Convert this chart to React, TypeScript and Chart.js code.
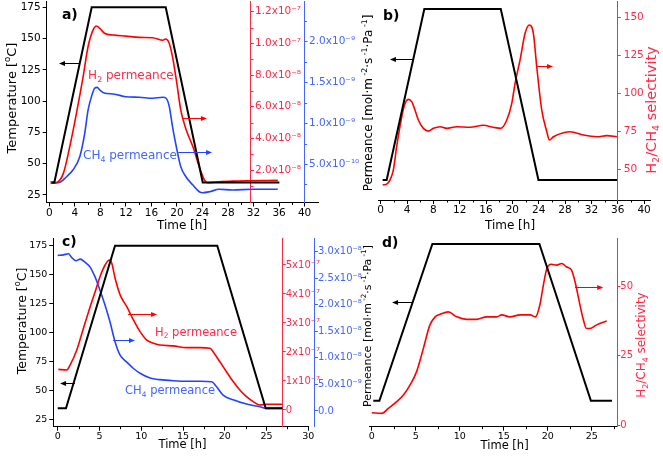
import React, { useEffect, useRef } from 'react';
import { Chart, registerables } from 'chart.js';

Chart.register(...registerables);

const CW = 663;
const CH = 456;
const FONT = '"DejaVu Sans", Verdana, sans-serif';
const BLACK = '#000000';
const RED = '#ff0000';
const RED_AX = '#ff2a48';
const BLUE = '#2244ff';
const BLUE_AX = '#4466ff';

// ---------------- Panel a ----------------
const aXTicks = [0, 4, 8, 12, 16, 20, 24, 28, 32, 36, 40];
const aXMinor = [2, 6, 10, 14, 18, 22, 26, 30, 34, 38];
const aTempTicks = [25, 50, 75, 100, 125, 150, 175];
const aH2Ticks = [2, 4, 6, 8, 10, 12];
const aH2Labels = ['2.0x10⁻⁸', '4.0x10⁻⁸', '6.0x10⁻⁸', '8.0x10⁻⁸', '1.0x10⁻⁷', '1.2x10⁻⁷'];
const aH2Minor = [1, 3, 5, 7, 9, 11];
const aCH4Ticks = [5, 10, 15, 20];
const aCH4Labels = ['5.0x10⁻¹⁰', '1.0x10⁻⁹', '1.5x10⁻⁹', '2.0x10⁻⁹'];
const aCH4Minor = [2.5, 7.5, 12.5, 17.5, 22.5];

const aTempT = [0.38, 0.79, 6.64, 18.24, 24.04, 36.05];
const aTempV = [35, 35, 175, 175, 35, 35];
// H2 permeance, units of 1e-8
const aH2T = [0.19, 1.12, 2.2, 3.2, 4.25, 5.3, 6.07, 6.85, 7.37, 7.9, 8.7, 9.97, 12, 14.1, 16.2, 17.8, 18.2, 18.8, 19.3, 19.9, 20.6, 21.4, 22.5, 23.5, 24.3, 24.8, 26.1, 28.7, 35.8];
const aH2V = [1.16, 1.2, 1.79, 3.47, 5.58, 7.9, 9.79, 10.84, 11.1, 10.95, 10.63, 10.53, 10.46, 10.38, 10.36, 10.2, 10.28, 10.0, 9.16, 7.69, 5.79, 4.6, 3.47, 2.21, 1.37, 1.2, 1.24, 1.3, 1.35];
// CH4 permeance, units of 1e-10
const aCH4T = [0.19, 1.4, 2.7, 3.7, 4.77, 5.55, 6.07, 6.6, 7.1, 7.5, 7.9, 8.7, 10, 12, 14.1, 16.2, 17.8, 18.3, 18.8, 19.3, 19.9, 20.6, 21.4, 22.5, 23.5, 24, 25.1, 26.6, 28.7, 31.9, 35.8];
const aCH4V = [2.83, 2.71, 3.44, 4.26, 5.9, 8.77, 11.6, 13.25, 14.28, 14.4, 14.08, 13.67, 13.59, 13.25, 13.18, 13.06, 13.18, 13.06, 12.03, 9.58, 7.12, 4.67, 3.44, 2.42, 1.6, 1.48, 1.6, 1.9, 1.81, 1.9, 1.9];

// ---------------- Panel b ----------------
const bXTicks = [0, 4, 8, 12, 16, 20, 24, 28, 32, 36, 40];
const bXMinor = [2, 6, 10, 14, 18, 22, 26, 30, 34, 38];
const bSelTicks = [50, 75, 100, 125, 150];
const bTempT = [0.3, 0.91, 6.63, 18.24, 23.96, 35.9];
const bTempV = [35, 35, 175, 175, 35, 35];
const bSelT = [0.3, 0.91, 1.41, 1.92, 2.43, 2.93, 3.54, 4.2, 4.71, 5.21, 5.72, 6.48, 7.24, 8.0, 9.01, 10.03, 11.55, 13.57, 15.6, 17.11, 18.24, 19.15, 19.91, 20.41, 21.17, 21.93, 22.58, 23.19, 23.7, 24.46, 25.23, 25.63, 26.24, 27.76, 28.77, 30.8, 32.83, 34.35, 35.87];
const bSelV = [39.5, 40.1, 42.7, 49.3, 64.7, 77.9, 91.1, 95.9, 94.4, 88.9, 82.3, 76.8, 75, 76.8, 77.9, 76.8, 77.9, 77.5, 78.8, 77.5, 76.8, 82.3, 93.3, 106.5, 121.9, 139.4, 144.9, 139.4, 117.4, 88.9, 74.6, 69.1, 71.3, 73.9, 74.6, 72.4, 71.3, 72, 71.3];

// ---------------- Panel c ----------------
const cXTicks = [0, 5, 10, 15, 20, 25, 30];
const cXMinor = [2.5, 7.5, 12.5, 17.5, 22.5, 27.5];
const cTempTicks = [25, 50, 75, 100, 125, 150, 175];
const cH2Ticks = [0, 1, 2, 3, 4, 5];
const cH2Labels = ['0', '1x10⁻⁷', '2x10⁻⁷', '3x10⁻⁷', '4x10⁻⁷', '5x10⁻⁷'];
const cCH4Ticks = [0, 0.5, 1, 1.5, 2, 2.5, 3];
const cCH4Labels = ['0.0', '5.0x10⁻⁹', '1.0x10⁻⁸', '1.5x10⁻⁸', '2.0x10⁻⁸', '2.5x10⁻⁸', '3.0x10⁻⁸'];
const cTempT = [0, 0.99, 6.86, 19.1, 24.9, 26.9];
const cTempV = [35, 35, 175, 175, 35, 35];
// H2 permeance, units of 1e-7
const cH2T = [0.08, 1.08, 1.48, 2.28, 3.08, 3.88, 4.48, 5.07, 5.67, 6.2, 6.47, 6.87, 7.47, 8.27, 9.07, 9.86, 10.66, 11.45, 12.25, 13.85, 15.45, 17.04, 18.24, 18.6, 19.4, 20.2, 21.0, 21.8, 22.6, 23.4, 24.2, 25.0, 26.9];
const cH2V = [1.4, 1.38, 1.55, 2.07, 2.82, 3.56, 4.08, 4.6, 5.0, 5.17, 5.06, 4.54, 3.97, 3.56, 3.1, 2.7, 2.41, 2.3, 2.24, 2.21, 2.15, 2.15, 2.13, 2.01, 1.67, 1.32, 0.98, 0.69, 0.46, 0.29, 0.17, 0.2, 0.2];
// CH4 permeance, units of 1e-8
const cCH4T = [0, 0.68, 1.28, 1.68, 2.2, 2.68, 3.28, 3.88, 4.48, 5.07, 5.67, 6.27, 6.87, 7.47, 8.27, 9.07, 9.86, 11.06, 12.25, 13.85, 15.45, 17.04, 18.44, 19.0, 19.8, 21.0, 22.6, 24.2, 25.0, 26.9];
const cCH4V = [2.93, 2.94, 2.96, 2.89, 2.83, 2.86, 2.8, 2.71, 2.52, 2.27, 1.99, 1.67, 1.3, 1.05, 0.92, 0.8, 0.71, 0.62, 0.59, 0.57, 0.56, 0.56, 0.55, 0.46, 0.3, 0.21, 0.13, 0.08, 0.05, 0.05];

// ---------------- Panel d ----------------
const dXTicks = [0, 5, 10, 15, 20, 25];
const dXMinor = [2.5, 7.5, 12.5, 17.5, 22.5, 27.5];
const dSelTicks = [0, 25, 50];
const dTempT = [0.18, 0.87, 6.89, 19.05, 24.9, 27.3];
const dTempV = [35, 35, 175, 175, 35, 35];
const dSelT = [0, 1.14, 1.89, 2.84, 3.6, 4.36, 5.1, 5.87, 6.6, 7.2, 7.77, 8.7, 9.66, 10.8, 11.9, 13.07, 14.2, 14.77, 15.7, 16.86, 18.0, 18.6, 19.1, 19.5, 19.9, 20.4, 21, 21.6, 22.1, 22.7, 23.1, 23.5, 24.0, 24.4, 24.8, 25.5, 26.7];
const dSelV = [4.46, 4.22, 6.0, 8.43, 10.84, 14.5, 19.3, 27.7, 36.1, 39.1, 40, 40.9, 39.1, 38.2, 38.2, 39.1, 39.1, 39.8, 39.1, 39.8, 39.8, 39.1, 43.4, 50.6, 56.6, 58.1, 57.8, 58.4, 57.2, 56, 51.8, 45.8, 38.6, 34.9, 34.9, 36.1, 37.6];

// ---------------- Text ----------------
type Seg = [string, number]; // 0 normal, 1 superscript, -1 subscript
const TEMP_TITLE: Seg[] = [['Temperature [', 0], ['o', 1], ['C]', 0]];
const PERM_TITLE: Seg[] = [['Permeance [mol·m', 0], [' -2', 1], ['·s', 0], [' -1', 1], ['·Pa', 0], [' -1', 1], [']', 0]];
const SEL_TITLE: Seg[] = [['H', 0], ['2', -1], ['/CH', 0], ['4', -1], [' selectivity', 0]];
const TIME_TITLE: Seg[] = [['Time [h]', 0]];
const H2_NOTE: Seg[] = [['H', 0], ['2', -1], [' permeance', 0]];
const CH4_NOTE: Seg[] = [['CH', 0], ['4', -1], [' permeance', 0]];

interface YAxisDef {
  id: string; side: 'left' | 'right'; display: boolean; min: number; max: number; color: string;
  ticks?: number[]; labels?: string[]; minor?: number[]; at?: number; font?: number; tickLen?: number; pad?: number;
}
interface SeriesDef { axis: string; xs: number[]; ys: number[]; color: string; width: number; smooth: boolean; }
interface NoteDef { x: number; y: number; segs: Seg[]; size: number; color: string; bold?: boolean; }
interface ArrowDef { x1: number; x2: number; y: number; color: string; }
interface TitleDef { px: number; py: number; segs: Seg[]; size: number; color: string; rotate: boolean; }
interface PanelDef {
  area: [number, number, number, number];
  x: { min: number; max: number; ticks: number[]; minor: number[]; font: number };
  yAxes: YAxisDef[];
  tempAxis: string;
  series: SeriesDef[];
  notes: NoteDef[];
  arrows: ArrowDef[];
  titles: TitleDef[];
}

const panelA: PanelDef = {
  area: [46.7, 1, 318, 202.5],
  x: { min: -0.41, max: 42.1, ticks: aXTicks, minor: aXMinor, font: 10.5 },
  tempAxis: 'yT',
  yAxes: [
    { id: 'yT', side: 'left', display: true, min: 19.0, max: 180.0, color: BLACK, ticks: aTempTicks, labels: aTempTicks.map(String), font: 10.5, tickLen: 4, pad: 2 },
    { id: 'yR', side: 'right', display: true, min: -0.05, max: 12.68, color: RED_AX, ticks: aH2Ticks, labels: aH2Labels, minor: aH2Minor, at: 31.6, font: 10.5, tickLen: 3, pad: 1 },
    { id: 'yB', side: 'right', display: true, min: 0.28, max: 24.99, color: BLUE_AX, ticks: aCH4Ticks, labels: aCH4Labels, minor: aCH4Minor, at: 40, font: 10.5, tickLen: 3, pad: 1.5 },
  ],
  series: [
    { axis: 'yT', xs: aTempT, ys: aTempV, color: BLACK, width: 2, smooth: false },
    { axis: 'yR', xs: aH2T, ys: aH2V, color: RED, width: 1.6, smooth: true },
    { axis: 'yB', xs: aCH4T, ys: aCH4V, color: BLUE, width: 1.6, smooth: true },
  ],
  notes: [
    { x: 1.97, y: 169.6, segs: [['a)', 0]], size: 14, color: BLACK, bold: true },
    { x: 6.08, y: 120.9, segs: H2_NOTE, size: 12, color: RED_AX },
    { x: 5.28, y: 57, segs: CH4_NOTE, size: 12, color: BLUE_AX },
  ],
  arrows: [
    { x1: 4.81, x2: 1.52, y: 130.5, color: BLACK },
    { x1: 20.96, x2: 24.7, y: 86.5, color: RED },
    { x1: 20.2, x2: 25.5, y: 59.4, color: BLUE },
  ],
  titles: [
    { px: 11, py: 98, segs: TEMP_TITLE, size: 13, color: BLACK, rotate: true },
    { px: 182, py: 225, segs: TIME_TITLE, size: 12, color: BLACK, rotate: false },
  ],
};

const panelB: PanelDef = {
  area: [378.3, 1, 650, 200],
  x: { min: -0.36, max: 40.9, ticks: bXTicks, minor: bXMinor, font: 10.5 },
  tempAxis: 'yT',
  yAxes: [
    { id: 'yT', side: 'left', display: false, min: 18.6, max: 181.5, color: BLACK },
    { id: 'yS', side: 'right', display: true, min: 29.6, max: 160.7, color: RED_AX, ticks: bSelTicks, labels: bSelTicks.map(String), at: 36, font: 10.5, tickLen: 3, pad: 3 },
  ],
  series: [
    { axis: 'yT', xs: bTempT, ys: bTempV, color: BLACK, width: 2, smooth: false },
    { axis: 'yS', xs: bSelT, ys: bSelV, color: RED, width: 1.6, smooth: true },
  ],
  notes: [
    { x: 0.35, y: 170.1, segs: [['b)', 0]], size: 14, color: BLACK, bold: true },
  ],
  arrows: [
    { x1: 4.91, x2: 1.41, y: 134.1, color: BLACK },
    { x1: 23.75, x2: 26.18, y: 128.3, color: RED },
  ],
  titles: [
    { px: 368, py: 103, segs: PERM_TITLE, size: 12, color: BLACK, rotate: true },
    { px: 651, py: 110, segs: SEL_TITLE, size: 14.5, color: RED_AX, rotate: true },
    { px: 510, py: 225, segs: TIME_TITLE, size: 12, color: BLACK, rotate: false },
  ],
};

const panelC: PanelDef = {
  area: [53.3, 238, 308.3, 426.7],
  x: { min: -0.53, max: 30, ticks: cXTicks, minor: cXMinor, font: 9.5 },
  tempAxis: 'yT',
  yAxes: [
    { id: 'yT', side: 'left', display: true, min: 19.2, max: 181.6, color: BLACK, ticks: cTempTicks, labels: cTempTicks.map(String), font: 9.5, tickLen: 4, pad: 2 },
    { id: 'yR', side: 'right', display: true, min: -0.576, max: 5.93, color: RED_AX, ticks: cH2Ticks, labels: cH2Labels, at: 26.94, font: 10, tickLen: 3, pad: 0 },
    { id: 'yB', side: 'right', display: true, min: -0.296, max: 3.258, color: BLUE_AX, ticks: cCH4Ticks, labels: cCH4Labels, at: 30.8, font: 10, tickLen: 3, pad: 0 },
  ],
  series: [
    { axis: 'yT', xs: cTempT, ys: cTempV, color: BLACK, width: 2, smooth: false },
    { axis: 'yR', xs: cH2T, ys: cH2V, color: RED, width: 1.6, smooth: true },
    { axis: 'yB', xs: cCH4T, ys: cCH4V, color: BLUE, width: 1.6, smooth: true },
  ],
  notes: [
    { x: 0.51, y: 179, segs: [['c)', 0]], size: 14, color: BLACK, bold: true },
    { x: 11.65, y: 101, segs: H2_NOTE, size: 11.5, color: RED_AX },
    { x: 8.06, y: 50.8, segs: CH4_NOTE, size: 11.5, color: BLUE_AX },
  ],
  arrows: [
    { x1: 2.07, x2: 0.28, y: 56.8, color: BLACK },
    { x1: 8.43, x2: 11.89, y: 116.2, color: RED },
    { x1: 6.63, x2: 9.25, y: 93.8, color: BLUE },
  ],
  titles: [
    { px: 21, py: 321, segs: TEMP_TITLE, size: 12.5, color: BLACK, rotate: true },
    { px: 182.5, py: 444, segs: TIME_TITLE, size: 11.5, color: BLACK, rotate: false },
  ],
};

const panelD: PanelDef = {
  area: [369, 238, 617.3, 426.7],
  x: { min: -0.31, max: 27.9, ticks: dXTicks, minor: dXMinor, font: 9.5 },
  tempAxis: 'yT',
  yAxes: [
    { id: 'yT', side: 'left', display: false, min: 11.8, max: 180.4, color: BLACK },
    { id: 'yS', side: 'right', display: true, min: -0.61, max: 67.6, color: RED_AX, ticks: dSelTicks, labels: dSelTicks.map(String), font: 10, tickLen: 3, pad: 0 },
  ],
  series: [
    { axis: 'yT', xs: dTempT, ys: dTempV, color: BLACK, width: 2, smooth: false },
    { axis: 'yS', xs: dSelT, ys: dSelV, color: RED, width: 1.6, smooth: true },
  ],
  notes: [
    { x: 1.17, y: 176.8, segs: [['d)', 0]], size: 14, color: BLACK, bold: true },
  ],
  arrows: [
    { x1: 4.69, x2: 2.31, y: 123.2, color: BLACK },
    { x1: 23.1, x2: 26.3, y: 136.6, color: RED },
  ],
  titles: [
    { px: 367, py: 326, segs: PERM_TITLE, size: 11, color: BLACK, rotate: true },
    { px: 641, py: 345, segs: SEL_TITLE, size: 12, color: RED_AX, rotate: true },
    { px: 504.6, py: 445, segs: TIME_TITLE, size: 11.5, color: BLACK, rotate: false },
  ],
};

const PANELS = [panelA, panelB, panelC, panelD];

function drawRich(ctx: CanvasRenderingContext2D, segs: Seg[], x: number, y: number, size: number, color: string, rotate: boolean, align: 'left' | 'center', bold = false) {
  ctx.save();
  ctx.translate(x, y);
  if (rotate) ctx.rotate(-Math.PI / 2);
  const fontFor = (k: number) => `${bold ? 'bold ' : ''}${k === 0 ? size : size * 0.65}px ${FONT}`;
  let total = 0;
  const widths = segs.map(([t, k]) => {
    ctx.font = fontFor(k);
    const w = ctx.measureText(t).width;
    total += w;
    return w;
  });
  let cx = align === 'center' ? -total / 2 : 0;
  ctx.fillStyle = color;
  ctx.textAlign = 'left';
  ctx.textBaseline = 'alphabetic';
  const base = size * 0.36;
  segs.forEach(([t, k], i) => {
    ctx.font = fontFor(k);
    const dy = k === 1 ? -size * 0.42 : k === -1 ? size * 0.22 : 0;
    ctx.fillText(t, cx, base + dy);
    cx += widths[i];
  });
  ctx.restore();
}

function drawArrow(ctx: CanvasRenderingContext2D, x1: number, x2: number, y: number, color: string) {
  const dir = Math.sign(x2 - x1);
  const yy = Math.round(y) + 0.5;
  ctx.save();
  ctx.strokeStyle = color;
  ctx.fillStyle = color;
  ctx.lineWidth = 1;
  ctx.beginPath();
  ctx.moveTo(x1, yy);
  ctx.lineTo(x2 - dir * 5, yy);
  ctx.stroke();
  ctx.beginPath();
  ctx.moveTo(x2, yy);
  ctx.lineTo(x2 - dir * 6, yy - 2.5);
  ctx.lineTo(x2 - dir * 6, yy + 2.5);
  ctx.closePath();
  ctx.fill();
  ctx.restore();
}

function buildConfig(def: PanelDef): any {
  const [l, t, r, b] = def.area;
  const leftVisible = def.yAxes.some((a) => a.side === 'left' && a.display);
  const leftW = leftVisible ? 40 : 0;
  const xH = 20;
  const zeroPad = (s: any) => {
    s.paddingTop = 0; s.paddingBottom = 0; s.paddingLeft = 0; s.paddingRight = 0;
  };
  const scales: any = {
    x: {
      type: 'linear',
      position: 'bottom',
      min: def.x.min,
      max: def.x.max,
      bounds: 'data',
      afterBuildTicks: (s: any) => { s.ticks = def.x.ticks.map((v) => ({ value: v })); },
      afterFit: (s: any) => { s.height = xH; zeroPad(s); },
      ticks: {
        callback: (_v: any, i: number) => String(def.x.ticks[i]),
        color: BLACK,
        font: { family: FONT, size: def.x.font },
        padding: 0,
        maxRotation: 0,
        autoSkip: false,
      },
      grid: { drawOnChartArea: false, drawTicks: true, tickLength: 4, tickColor: BLACK, tickWidth: 1 },
      border: { display: true, color: BLACK, width: 1 },
    },
  };
  def.yAxes.forEach((a) => {
    scales[a.id] = {
      type: 'linear',
      display: a.display,
      position: a.side,
      min: a.min,
      max: a.max,
      bounds: 'data',
      afterBuildTicks: (s: any) => { if (a.ticks) s.ticks = a.ticks.map((v) => ({ value: v })); },
      afterFit: (s: any) => { s.width = a.side === 'left' && a.display ? leftW : 0; zeroPad(s); },
      ticks: {
        callback: (_v: any, i: number) => (a.labels ? a.labels[i] : ''),
        color: a.color,
        font: { family: FONT, size: a.font || 10 },
        padding: a.pad ?? 2,
        autoSkip: false,
      },
      grid: { drawOnChartArea: false, drawTicks: true, tickLength: a.tickLen || 4, tickColor: a.color, tickWidth: 1 },
      border: { display: true, color: a.color, width: 1 },
    };
  });

  const deco = {
    id: 'deco',
    afterLayout(chart: any) {
      const xs = chart.scales.x;
      def.yAxes.forEach((a) => {
        if (a.side !== 'right') return;
        const s = chart.scales[a.id];
        const px = a.at !== undefined ? xs.getPixelForValue(a.at) : s.left;
        s.left = px;
        s.right = px + 90; // room for the tick labels (labels are clipped to the scale box)
      });
    },
    afterDraw(chart: any) {
      const ctx: CanvasRenderingContext2D = chart.ctx;
      const xs = chart.scales.x;
      const ys = chart.scales[def.tempAxis];
      ctx.save();
      ctx.lineWidth = 1;
      ctx.strokeStyle = BLACK;
      def.x.minor.forEach((v) => {
        const px = Math.round(xs.getPixelForValue(v)) + 0.5;
        ctx.beginPath();
        ctx.moveTo(px, xs.top);
        ctx.lineTo(px, xs.top + 2.5);
        ctx.stroke();
      });
      def.yAxes.forEach((a) => {
        if (!a.minor) return;
        const s = chart.scales[a.id];
        ctx.strokeStyle = a.color;
        a.minor.forEach((v) => {
          const py = Math.round(s.getPixelForValue(v)) + 0.5;
          ctx.beginPath();
          ctx.moveTo(s.left, py);
          ctx.lineTo(s.left + 2.5, py);
          ctx.stroke();
        });
      });
      ctx.restore();
      def.arrows.forEach((ar) => drawArrow(ctx, xs.getPixelForValue(ar.x1), xs.getPixelForValue(ar.x2), ys.getPixelForValue(ar.y), ar.color));
      def.notes.forEach((n) => drawRich(ctx, n.segs, xs.getPixelForValue(n.x), ys.getPixelForValue(n.y), n.size, n.color, false, 'left', !!n.bold));
      def.titles.forEach((tt) => drawRich(ctx, tt.segs, tt.px, tt.py, tt.size, tt.color, tt.rotate, 'center'));
    },
  };

  return {
    type: 'line',
    data: {
      datasets: def.series.map((s) => ({
        data: s.xs.map((x, i) => ({ x, y: s.ys[i] })),
        xAxisID: 'x',
        yAxisID: s.axis,
        borderColor: s.color,
        backgroundColor: s.color,
        borderWidth: s.width,
        pointRadius: 0,
        fill: false,
        tension: s.smooth ? 0.3 : 0,
        cubicInterpolationMode: s.smooth ? 'monotone' : 'default',
      })),
    },
    options: {
      responsive: false,
      animation: false,
      devicePixelRatio: 1,
      layout: {
        autoPadding: false,
        padding: { left: l - leftW, top: t, right: CW - r, bottom: CH - b - xH },
      },
      plugins: { legend: { display: false }, tooltip: { enabled: false } },
      events: [],
      scales,
    },
    plugins: [deco],
  };
}

function Panel({ def }: { def: PanelDef }) {
  const ref = useRef<HTMLCanvasElement>(null);
  useEffect(() => {
    const chart = new Chart(ref.current as HTMLCanvasElement, buildConfig(def));
    return () => chart.destroy();
  }, [def]);
  return (
    <canvas
      ref={ref}
      width={CW}
      height={CH}
      style={{ position: 'absolute', left: 0, top: 0, width: CW, height: CH }}
    />
  );
}

export default function App() {
  return (
    <div style={{ position: 'fixed', left: 0, top: 0, width: CW, height: CH, background: '#ffffff', overflow: 'hidden' }}>
      {PANELS.map((p, i) => (
        <Panel key={i} def={p} />
      ))}
    </div>
  );
}
